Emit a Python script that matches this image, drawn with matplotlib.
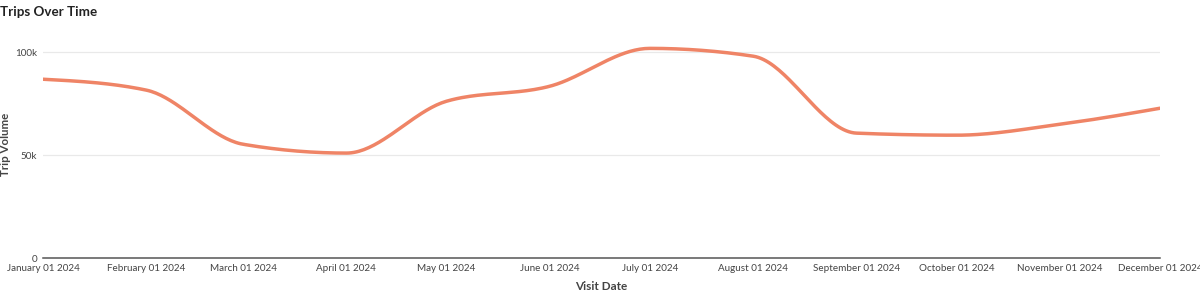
import numpy as np
import pandas as pd
import matplotlib
matplotlib.use('Agg')
import matplotlib.pyplot as plt
import matplotlib.dates as mdates
from matplotlib.ticker import FuncFormatter

plt.rcParams['font.family'] = ['Lato', 'DejaVu Sans']

months = pd.date_range('2024-01-01', '2024-12-01', freq='MS')
trips = [86900, 81600, 55300, 51000, 76200, 83500, 101900, 98100, 60700, 59700, 65000, 72800]
line_color = '#ef8466'


def monotone_curve(x, y, n=40):
    # d3 curveMonotoneX style (Fritsch-Carlson) for the drawn line shape
    x = np.asarray(x, float)
    y = np.asarray(y, float)
    h = np.diff(x)
    s = np.diff(y) / h
    m = np.zeros_like(y)
    for i in range(1, len(y) - 1):
        p = (s[i - 1] * h[i] + s[i] * h[i - 1]) / (h[i - 1] + h[i])
        m[i] = (np.sign(s[i - 1]) + np.sign(s[i])) * min(abs(s[i - 1]), abs(s[i]), 0.5 * abs(p))
    m[0] = (3 * s[0] - m[1]) / 2
    m[-1] = (3 * s[-1] - m[-2]) / 2
    xs, ys = [], []
    for i in range(len(h)):
        t = np.linspace(0, 1, n, endpoint=(i == len(h) - 1))
        h00 = 2 * t**3 - 3 * t**2 + 1
        h10 = t**3 - 2 * t**2 + t
        h01 = -2 * t**3 + 3 * t**2
        h11 = t**3 - t**2
        xs.append(x[i] + t * h[i])
        ys.append(h00 * y[i] + h10 * h[i] * m[i] + h01 * y[i + 1] + h11 * h[i] * m[i + 1])
    return np.concatenate(xs), np.concatenate(ys)


xnum = mdates.date2num(months)
cx, cy = monotone_curve(xnum, trips)

fig = plt.figure(figsize=(12, 2.94), dpi=100)
ax = fig.add_axes([43 / 1200, 36 / 294, (1160 - 43) / 1200, (258 - 42) / 294])

ax.plot(cx, cy, color=line_color, lw=2.5, solid_capstyle='round')

ax.set_xlim(xnum[0], xnum[-1])
ax.set_ylim(0, 105000)
ax.set_yticks([0, 50000, 100000])
ax.yaxis.set_major_formatter(FuncFormatter(lambda v, p: '0' if v == 0 else f'{int(v / 1000)}k'))
ax.set_xticks(xnum)
ax.set_xticklabels([d.strftime('%B %d %Y') for d in months])

ax.grid(axis='y', color='#e9e9e9', lw=0.9)
ax.set_axisbelow(True)
for side in ['top', 'right', 'left']:
    ax.spines[side].set_visible(False)
ax.spines['bottom'].set_color('#555555')
ax.spines['bottom'].set_linewidth(1.1)
ax.tick_params(axis='both', length=0, labelsize=7.1, colors='#444444')
ax.tick_params(axis='x', pad=4)
ax.tick_params(axis='y', pad=4)

ax.set_xlabel('Visit Date', fontsize=8.5, fontweight='bold', color='#444444', labelpad=6)
fig.text(6 / 1200, 1 - 144 / 294, 'Trip Volume', fontsize=8.3, fontweight='bold', color='#444444',
         rotation=90, ha='center', va='center')

fig.text(0.0, 1 - 12 / 294, 'Trips Over Time', fontsize=9.6, fontweight='bold', color='#222222',
         ha='left', va='center')

fig.savefig('out.png', dpi=100, facecolor='white')
